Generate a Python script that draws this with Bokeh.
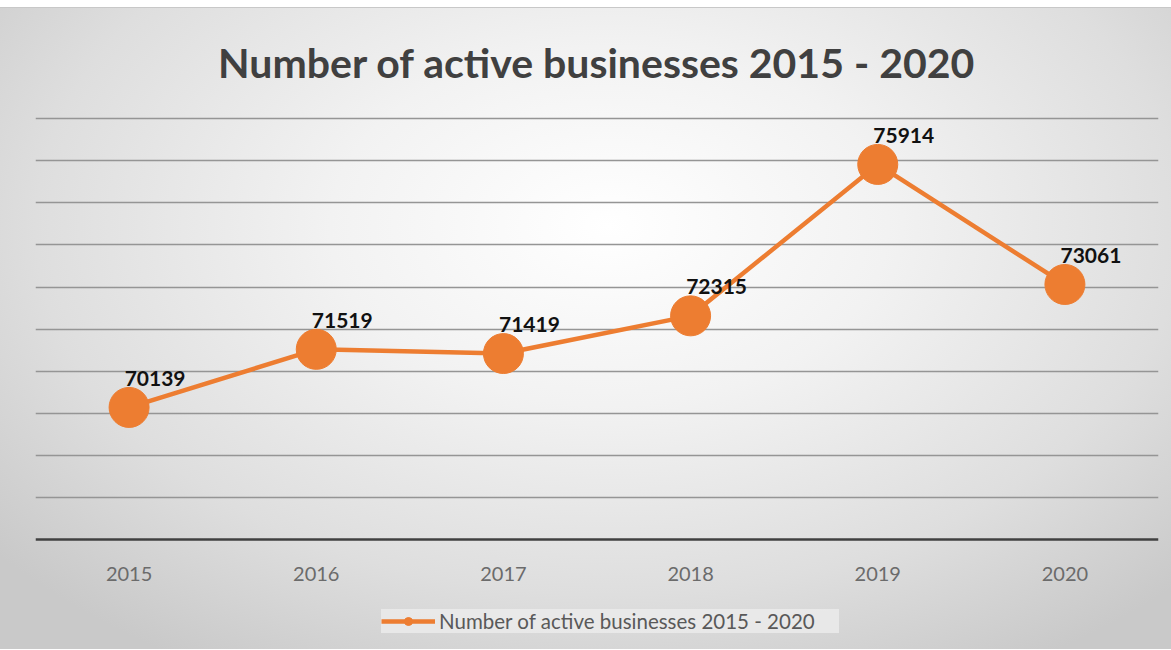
from bokeh.plotting import figure
from bokeh.models import ColumnDataSource, Legend, LegendItem, Range1d, FixedTicker, Span
from bokeh.core.properties import value
from bokeh.embed import file_html
from bokeh.resources import INLINE

years = ["2015", "2016", "2017", "2018", "2019", "2020"]
businesses = [70139, 71519, 71419, 72315, 75914, 73061]
labels = [str(v) for v in businesses]
series_name = "Number of active businesses 2015 - 2020"
title_text = "Number of active businesses 2015 - 2020"
axis_min = 67000
axis_max = 77000
grid_step = 1000

src = ColumnDataSource(dict(x=years, y=businesses, label=labels))
tick_src = ColumnDataSource(dict(x=years, y=[axis_min] * len(years), t=years))

ORANGE = "#ED7D31"
FONT = "Lato"

p = figure(
    frame_width=1123, frame_height=535,
    x_range=years, y_range=Range1d(64386, 77100),
    output_backend="svg", toolbar_location=None,
    x_axis_location=None, y_axis_location=None,
    min_border_left=35, min_border_right=13, min_border_top=101, min_border_bottom=0,
)
p.styles = {
    "margin-top": "7px",
    "border-top": "1px solid #c8c8c8",
    "background": "radial-gradient(ellipse 68% 80% at 52% 34%, #ffffff 0%, #f2f2f2 35%, #dedede 72%, #c9c9c9 100%)",
}
p.border_fill_color = None
p.background_fill_color = None
p.outline_line_color = None

p.title.text = title_text
p.title.align = "center"
p.title.text_font = FONT
p.title.text_font_style = "bold"
p.title.text_font_size = "41px"
p.title.text_color = "#404040"
p.title.standoff = 55

p.ygrid.ticker = FixedTicker(ticks=list(range(axis_min + grid_step, axis_max + 1, grid_step)))
p.ygrid.grid_line_color = "#959595"
p.ygrid.grid_line_width = 1.3
p.xgrid.grid_line_color = None

# category axis line and labels
p.add_layout(Span(location=axis_min, dimension="width", line_color="#404040", line_width=2.5))
p.text("x", "y", text="t", source=tick_src, y_offset=34,
       text_align="center", text_baseline="middle",
       text_font=value(FONT), text_font_size="20px", text_color="#6b6b6b")

line_r = p.line("x", "y", source=src, line_color=ORANGE, line_width=4.5)
pts_r = p.scatter("x", "y", source=src, size=40, fill_color=ORANGE, line_color=ORANGE)

p.text("x", "y", text="label", source=src, x_offset=26, y_offset=-29,
       text_align="center", text_baseline="middle",
       text_font=value(FONT), text_font_style="bold", text_font_size="21px",
       text_color="#111111")

legend = Legend(items=[LegendItem(label=series_name, renderers=[line_r, pts_r])],
                location=(346, 16), orientation="horizontal")
legend.background_fill_color = "#ebebeb"
legend.background_fill_alpha = 0.85
legend.border_line_color = None
legend.label_text_font = FONT
legend.label_text_font_size = "20.5px"
legend.label_text_color = "#595959"
legend.glyph_width = 54
legend.glyph_height = 20
legend.label_standoff = 4
legend.padding = 9
legend.margin = 0
legend.label_width = 400
p.add_layout(legend, "center")

open("out.html", "w").write(file_html(p, INLINE))
